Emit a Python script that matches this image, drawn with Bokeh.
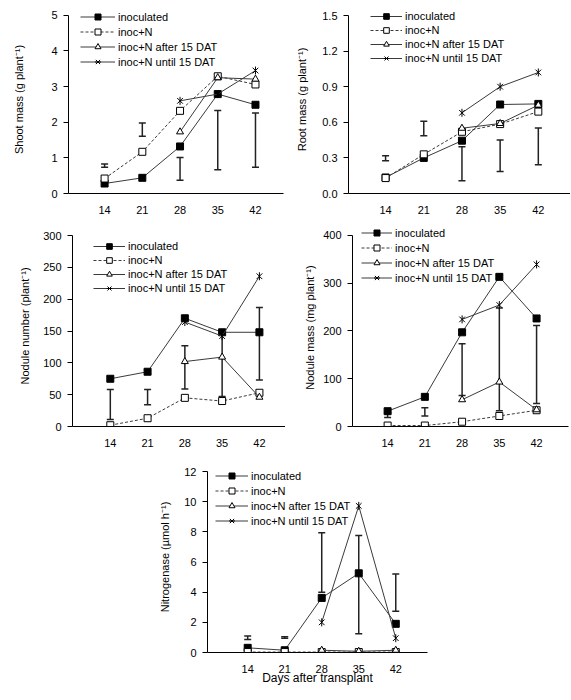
import math
from bokeh.plotting import figure
from bokeh.models import (ColumnDataSource, Whisker, TeeHead, Legend, LegendItem,
                          FixedTicker, PrintfTickFormatter, Range1d, Spacer)
from bokeh.layouts import row, column
from bokeh.embed import file_html
from bokeh.resources import INLINE

nan = float("nan")

days = [14, 21, 28, 35, 42]
series_names = ["inoculated", "inoc+N", "inoc+N after 15 DAT", "inoc+N until 15 DAT"]

# Shoot mass (g plant-1)
shoot_inoc = [0.28, 0.44, 1.32, 2.79, 2.49]
shoot_inocN = [0.42, 1.17, 2.32, 3.29, 3.06]
shoot_after = [nan, nan, 1.73, 3.25, 3.21]
shoot_until = [nan, nan, 2.60, 2.79, 3.45]
shoot_lo = [0.74, 1.61, 0.37, 0.67, 0.74]
shoot_hi = [0.83, 1.98, 1.01, 2.33, 2.26]
shoot_ticks = [0, 1, 2, 3, 4, 5]

# Root mass (g plant-1)
root_inoc = [0.135, 0.30, 0.445, 0.75, 0.755]
root_inocN = [0.13, 0.33, 0.52, 0.585, 0.69]
root_after = [nan, nan, 0.55, 0.59, 0.745]
root_until = [nan, nan, 0.68, 0.90, 1.02]
root_lo = [0.276, 0.487, 0.107, 0.186, 0.242]
root_hi = [0.318, 0.608, 0.394, 0.45, 0.552]
root_ticks = [0.0, 0.3, 0.6, 0.9, 1.2, 1.5]

# Nodule number (plant-1)
nodn_inoc = [75, 86, 170, 148, 148]
nodn_inocN = [2, 13, 45, 40, 53]
nodn_after = [nan, nan, 102, 109, 46]
nodn_until = [nan, nan, 164, 142, 236]
nodn_lo = [11, 34, 59, 47, 73]
nodn_hi = [58, 58, 127, 148, 187]
nodn_ticks = [0, 50, 100, 150, 200, 250, 300]

# Nodule mass (mg plant-1)
nodm_inoc = [32, 62, 197, 313, 226]
nodm_inocN = [2, 2, 10, 22, 34]
nodm_after = [nan, nan, 56, 93, 35]
nodm_until = [nan, nan, 224, 254, 339]
nodm_lo = [19, 22, 65, 33, 48]
nodm_hi = [29, 39, 173, 248, 211]
nodm_ticks = [0, 100, 200, 300, 400]

# Nitrogenase (umol h-1)
nit_inoc = [0.31, 0.15, 3.62, 5.25, 1.9]
nit_inocN = [0.03, 0.03, 0.03, 0.03, 0.03]
nit_after = [nan, nan, 0.15, 0.08, 0.15]
nit_until = [nan, nan, 2.0, 9.72, 0.95]
nit_lo = [0.86, 0.95, 4.0, 1.24, 2.74]
nit_hi = [1.1, 1.05, 7.94, 7.76, 5.2]
nit_ticks = [0, 2, 4, 6, 8, 10, 12]

FONT = "Liberation Sans"
LINE = "#3a3a3a"
HEADROOM = 10  # px of empty frame above the top tick, room for the legend


def make_panel(series, lo, hi, yticks, ylabel, fmt, width, height, borders,
               xr, ylab_standoff, leg_xy, leg_row, leg_glyph_w, xlabel=None):
    bl, br, bt, bb = borders
    frame_h = height - bt - bb
    ymax = yticks[-1]
    y_end = ymax * (frame_h + HEADROOM) / frame_h
    p = figure(width=width, height=height, output_backend="svg", toolbar_location=None,
               x_range=Range1d(*xr), y_range=Range1d(yticks[0], y_end),
               min_border_left=bl, min_border_right=br,
               min_border_top=bt - HEADROOM, min_border_bottom=bb)
    p.outline_line_color = None
    p.grid.visible = False
    p.background_fill_color = "white"
    p.border_fill_color = "white"

    for ax in (p.xaxis[0], p.yaxis[0]):
        ax.axis_line_color = "black"
        ax.axis_line_width = 1
        ax.major_label_text_font = FONT
        ax.major_label_text_font_size = "11px"
        ax.major_label_text_color = "black"
        ax.axis_label_text_font = FONT
        ax.axis_label_text_font_size = "11px"
        ax.axis_label_text_font_style = "normal"
        ax.axis_label_text_color = "black"
        ax.minor_tick_line_color = None
        ax.major_tick_line_color = "black"

    xa = p.xaxis[0]
    xa.ticker = FixedTicker(ticks=days)
    xa.major_tick_out = 0
    xa.major_tick_in = 0
    xa.major_label_standoff = 12
    if xlabel:
        xa.axis_label = xlabel
        xa.axis_label_standoff = -5
        xa.axis_label_text_font_size = "12px"

    ya = p.yaxis[0]
    ya.ticker = FixedTicker(ticks=yticks)
    ya.formatter = PrintfTickFormatter(format=fmt)
    ya.bounds = (yticks[0], ymax)
    ya.major_tick_out = 5
    ya.major_tick_in = 0
    ya.major_label_standoff = 6
    ya.axis_label = ylabel
    ya.axis_label_standoff = ylab_standoff

    # LSD bars
    esrc = ColumnDataSource(dict(x=days, lo=lo, hi=hi))
    wh = Whisker(source=esrc, base="x", lower="lo", upper="hi",
                 line_color="#222222", line_width=1.5,
                 upper_head=TeeHead(size=7, line_color="#222222", line_width=1.5),
                 lower_head=TeeHead(size=7, line_color="#222222", line_width=1.5))
    p.add_layout(wh)

    styles = [
        dict(dash="solid", markers=[("square", 0)], fill="black", size=7),
        dict(dash="3 2", markers=[("square", 0)], fill="white", size=7),
        dict(dash="solid", markers=[("triangle", 0)], fill="white", size=7),
        dict(dash="solid", markers=[("x", 0), ("dash", math.pi / 2)], fill="white", size=8),
    ]
    items = []
    for name, ys, st in zip(series_names, series, styles):
        src = ColumnDataSource(dict(x=days, y=ys))
        rs = [p.line("x", "y", source=src, line_color=LINE, line_width=1,
                     line_dash=st["dash"])]
        for mk, ang in st["markers"]:
            rs.append(p.scatter("x", "y", source=src, marker=mk, size=st["size"],
                                angle=ang, fill_color=st["fill"], line_color="black",
                                line_width=1))
        items.append(LegendItem(label=name, renderers=rs))

    leg = Legend(items=items, location=leg_xy, padding=0, margin=0, spacing=0,
                 glyph_width=leg_glyph_w, glyph_height=int(leg_row),
                 label_height=int(leg_row), label_standoff=3,
                 label_text_font=FONT, label_text_font_size="11px",
                 label_text_color="black",
                 border_line_alpha=0, background_fill_alpha=0)
    p.add_layout(leg)
    return p


p1 = make_panel([shoot_inoc, shoot_inocN, shoot_after, shoot_until], shoot_lo, shoot_hi,
                shoot_ticks, "Shoot mass (g plant\u207b\u00b9)", "%d",
                285, 221, (68, 2, 14, 26), (7.3, 47.2), 23,
                (12, 124), 15, 35)
p2 = make_panel([root_inoc, root_inocN, root_after, root_until], root_lo, root_hi,
                root_ticks, "Root mass (g plant\u207b\u00b9)", "%.1f",
                285, 221, (63, 0, 15, 28), (7.2, 47.9), 11,
                (22, 128), 14, 32)
p3 = make_panel([nodn_inoc, nodn_inocN, nodn_after, nodn_until], nodn_lo, nodn_hi,
                nodn_ticks, "Nodule number (plant\u207b\u00b9)", "%d",
                285, 235, (72, 0, 14, 30), (6.9, 46.9), 9,
                (21, 131), 14, 32)
p4 = make_panel([nodm_inoc, nodm_inocN, nodm_after, nodm_until], nodm_lo, nodm_hi,
                nodm_ticks, "Nodule mass  (mg plant\u207b\u00b9)", "%d",
                285, 235, (67, 2, 11, 28), (7.4, 48.0), 4,
                (9, 141), 15, 31)
p5 = make_panel([nit_inoc, nit_inocN, nit_after, nit_until], nit_lo, nit_hi,
                nit_ticks, "Nitrogenase (\u00b5mol h\u207b\u00b9)", "%d",
                300, 242, (57, 23, 15, 46), (6.4, 48.0), 10,
                (8, 124), 15, 33, xlabel="Days after transplant")

layout = column(row(p1, p2), row(p3, p4), row(Spacer(width=150, height=242), p5))
open("out.html", "w").write(file_html(layout, INLINE))
